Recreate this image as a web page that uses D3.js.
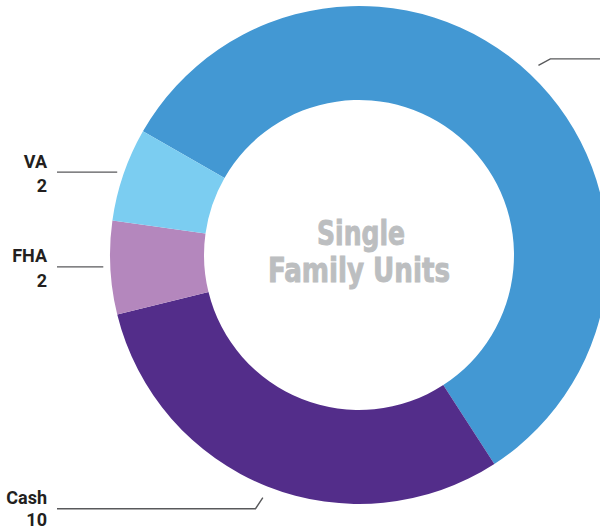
<!DOCTYPE html>
<html><head><meta charset="utf-8">
<script src="https://cdn.jsdelivr.net/npm/d3@7/dist/d3.min.js"></script>
<style>html,body{margin:0;padding:0;background:#fff;}svg{display:block;}</style>
</head><body>
<svg id="chart" width="600" height="531"></svg>
<script>
const categories = ["Conventional", "Cash", "FHA", "VA"];
const values = [19, 10, 2, 2];
const colors = ["#4398d3", "#532d8a", "#b487bd", "#7bcdf1"];
const centerTitle = ["Single", "Family Units"];

const svg = d3.select("#chart");
const cx = 359, cy = 255, R = 249, r = 155;
const start = -60.2 * Math.PI / 180;

const pie = d3.pie().sort(null).value(d => d.v)
  .startAngle(start).endAngle(start + 2 * Math.PI);
const data = pie(categories.map((c, i) => ({c, v: values[i], color: colors[i]})));
const arc = d3.arc().innerRadius(r).outerRadius(R);

const g = svg.append("g").attr("transform", `translate(${cx},${cy})`);
g.selectAll("path").data(data).join("path")
  .attr("d", arc).attr("fill", d => d.data.color);

// center title
const tg = svg.append("g").attr("font-family", "'DejaVu Sans Condensed', 'DejaVu Sans'")
  .attr("font-weight", "bold").attr("fill", "#bcbec0").attr("stroke", "#bcbec0").attr("stroke-width", 0.9)
  .attr("font-size", 33).attr("text-anchor", "middle");
tg.append("text").attr("x", 361).attr("y", 245).attr("textLength", 88).attr("lengthAdjust", "spacingAndGlyphs").text(centerTitle[0]);
tg.append("text").attr("x", 359).attr("y", 282).attr("textLength", 182).attr("lengthAdjust", "spacingAndGlyphs").text(centerTitle[1]);

// leader lines and labels
const mid = d => (d.startAngle + d.endAngle) / 2;
const pt = (a, rad) => [cx + rad * Math.sin(a), cy - rad * Math.cos(a)];
const lab = svg.append("g");
const labelX = 47, lineStartX = 57;

data.forEach(d => {
  const a = mid(d);
  const name = d.data.c;
  let lineY;
  if (name === "VA" || name === "FHA") {
    const p = pt(a, R + 4);
    lineY = p[1] - 1;
    const endX = cx - Math.sqrt(Math.max(0, R * R - (lineY - cy) * (lineY - cy))) - 7;
    lab.append("line").attr("x1", lineStartX).attr("x2", endX)
      .attr("y1", lineY).attr("y2", lineY)
      .attr("stroke", "#58595b").attr("stroke-width", 1.4);
  } else {
    const p1 = pt(a, R + 12);
    const p2 = pt(a + (name === "Cash" ? 0.01 : 0.015), R + 25);
    const xEnd = name === "Cash" ? lineStartX : 610;
    lineY = p2[1];
    lab.append("path")
      .attr("d", `M${p1[0]},${p1[1]}L${p2[0]},${p2[1]}L${xEnd},${p2[1]}`)
      .attr("fill", "none").attr("stroke", "#58595b").attr("stroke-width", 1.4);
  }
  if (name !== "Conventional") {
    const t = lab.append("text").attr("font-family", "Roboto, 'Liberation Sans', sans-serif")
      .attr("font-weight", "bold").attr("font-size", 18).attr("fill", "#231f20")
      .attr("text-anchor", "end");
    t.append("tspan").attr("x", labelX).attr("y", lineY - 4.5).text(name);
    t.append("tspan").attr("x", labelX).attr("y", Math.min(lineY + 20, 526)).text(d.data.v);
  }
});
</script>
</body></html>
